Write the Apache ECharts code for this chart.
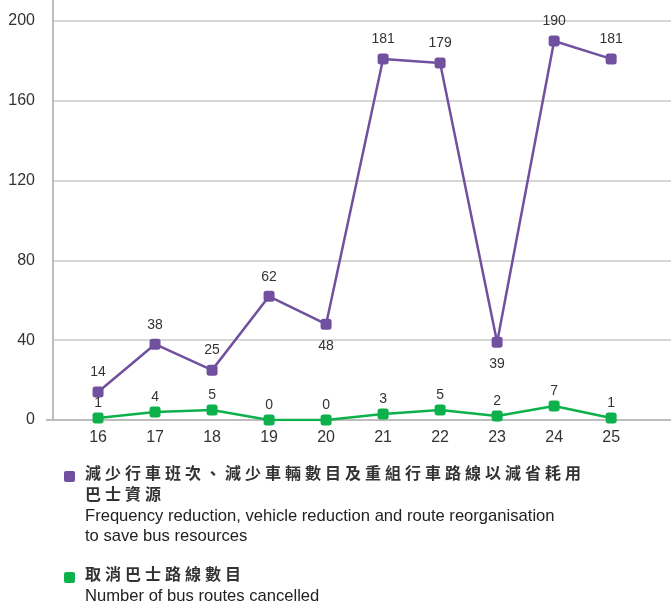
<!DOCTYPE html>
<html>
<head>
<meta charset="utf-8">
<script src="https://cdn.jsdelivr.net/npm/echarts@6/dist/echarts.min.js"></script>
<style>
	html, body { margin: 0; padding: 0; background: #fff; }
	#chart { width: 671px; height: 605px; }
</style>
</head>
<body>
<div id="chart"></div>
<script>
// data
const categories = [16, 17, 18, 19, 20, 21, 22, 23, 24, 25];
const reducedValues = [14, 38, 25, 62, 48, 181, 179, 39, 190, 181];
const cancelledValues = [1, 4, 5, 0, 0, 3, 5, 2, 7, 1];
const reducedLabelBelow = [4, 7]; // indexes whose label sits under the point
const yTicks = [0, 40, 80, 120, 160, 200];

const reducedZh = "減少行車班次、減少車輛數目及重組行車路線以減省耗用\n巴士資源";
const reducedEn = "Frequency reduction, vehicle reduction and route reorganisation\nto save bus resources";
const cancelledZh = "取消巴士路線數目";
const cancelledEn = "Number of bus routes cancelled";

const PURPLE = "#7150a0";
const GREEN = "#0db14b";
const GRID = "#c8c8c8";
const TEXT = "#333";
const FONT = "Liberation Sans, Arial, sans-serif";

const spaced = s => s.split("\n").map(line => line.split("").join("\u2005")).join("\n");

const chart = echarts.init(document.getElementById("chart"));

const makeSeries = (name, values, color, labelDist, below) => ({
	name,
	type: "line",
	data: values.map((v, i) => {
		const item = { value: [categories[i], v] };
		if (below && below.includes(i)) item.label = { position: "bottom", distance: 9 };
		return item;
	}),
	symbol: "roundRect",
	symbolSize: 11,
	lineStyle: { color, width: 2.5 },
	itemStyle: { color },
	label: {
		show: true,
		position: "top",
		distance: labelDist,
		color: TEXT,
		fontSize: 14,
		fontFamily: FONT,
		formatter: p => p.value[1],
	},
	z: 3,
	animation: false,
});

const legendBlock = (y, color, zh, en) => [
	{
		type: "rect",
		left: 64, top: y + 4,
		shape: { width: 11, height: 11, r: 2 },
		style: { fill: color },
	},
	{
		type: "text",
		left: 85, top: y,
		style: {
			text: `{zh|${spaced(zh)}}\n{en|${en}}`,
			rich: {
				zh: { fontSize: 16, fontWeight: "bold", lineHeight: 21, fill: TEXT, fontFamily: "Liberation Sans, Noto Sans CJK TC, sans-serif" },
				en: { fontSize: 16.6, lineHeight: 20, fill: "#222", fontFamily: FONT },
			},
		},
	},
];

chart.setOption({
	animation: false,
	grid: { left: 53, right: 0, top: 21, bottom: 185 },
	xAxis: {
		type: "value",
		min: 15.21,
		max: 26.05,
		axisLine: { show: true, lineStyle: { color: "#bdbdbd", width: 2 } },
		axisTick: { show: false },
		splitLine: { show: false },
		axisLabel: {
			customValues: categories,
			color: TEXT,
			fontSize: 16,
			margin: 10,
			fontFamily: FONT,
		},
	},
	yAxis: {
		type: "value",
		min: 0,
		max: 200,
		interval: 40,
		axisLine: { show: true, lineStyle: { color: "#bdbdbd", width: 2 } },
		axisTick: { show: false },
		splitLine: { show: true, lineStyle: { color: GRID, width: 1.5 } },
		axisLabel: {
			customValues: yTicks,
			color: TEXT,
			fontSize: 16,
			margin: 18,
			fontFamily: FONT,
		},
	},
	series: [
		makeSeries("reduced", reducedValues, PURPLE, 7, reducedLabelBelow),
		makeSeries("cancelled", cancelledValues, GREEN, 2, null),
	],
	graphic: [
		// axis stubs beyond the grid
		{ type: "line", shape: { x1: 53, y1: 0, x2: 53, y2: 21 }, style: { stroke: "#bdbdbd", lineWidth: 2 } },
		{ type: "line", shape: { x1: 46, y1: 420, x2: 53, y2: 420 }, style: { stroke: "#bdbdbd", lineWidth: 2 } },
		...legendBlock(467, PURPLE, reducedZh, reducedEn),
		...legendBlock(568, GREEN, cancelledZh, cancelledEn),
	],
});
</script>
</body>
</html>
